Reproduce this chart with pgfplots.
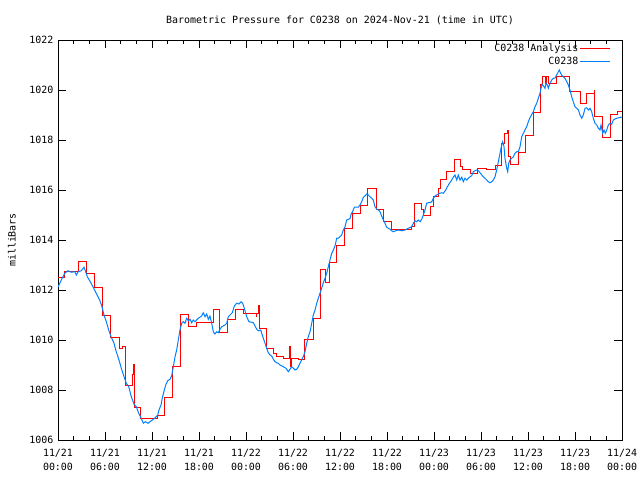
\documentclass[border=0pt]{standalone}
\usepackage{pgfplots}
\pgfplotsset{compat=1.18}
\usepackage{fontspec}
\setmainfont{DejaVu Sans Mono}
\definecolor{obsblue}{RGB}{0,128,255}
\definecolor{anared}{RGB}{255,0,0}
\begin{document}
\fontsize{10}{12}\selectfont
\begin{tikzpicture}
\useasboundingbox (0,0) rectangle (640bp,480bp);
\begin{axis}[
  at={(58bp,40bp)}, anchor=south west,
  scale only axis, width=564bp, height=400bp,
  xmin=0, xmax=72, ymin=1006, ymax=1022,
  xtick={0,6,...,72},
  minor xtick={0,2,...,72},
  xticklabels={{11/21\\00:00},{11/21\\06:00},{11/21\\12:00},{11/21\\18:00},{11/22\\00:00},{11/22\\06:00},{11/22\\12:00},{11/22\\18:00},{11/23\\00:00},{11/23\\06:00},{11/23\\12:00},{11/23\\18:00},{11/24\\00:00}},
  ytick={1006,1008,...,1022},
  yticklabels={1006,1008,1010,1012,1014,1016,1018,1020,1022},
  tick align=inside,
  major tick length=8bp, minor tick length=4bp,
  tick style={black, line width=0.8bp},
  axis line style={line width=0.9bp},
  xticklabel style={align=center, font=\fontsize{10}{14}\selectfont, yshift=-6bp},
  yticklabel style={font=\fontsize{10}{12}\selectfont, xshift=-1bp},
  legend style={at={(1,1)}, anchor=north east, xshift=-11bp, yshift=-2bp,
    draw=none, fill=none, font=\fontsize{10}{11}\selectfont,
    row sep=1.5bp, inner sep=0pt, nodes={inner sep=1.5bp}},
  legend plot pos=right,
  legend cell align=right,
  legend image code/.code={\draw[#1] (0bp,0bp) -- (30bp,0bp);},
]
\addplot[anared, line width=1bp, const plot] coordinates {
(0,1012.51) (0.77,1012.75) (2.64,1013.15) (3.66,1012.64) (4.69,1012.11)
(5.66,1010.99) (6.73,1010.11) (7.79,1009.65) (8.21,1009.75) (8.68,1008.19)
(9.54,1008.6) (9.61,1009.03) (9.79,1007.31) (10.56,1006.84) (12.68,1006.97)
(13.57,1007.71) (14.59,1008.93) (15.70,1011.0) (16.63,1010.53) (17.71,1010.69)
(19.79,1011.2) (20.59,1010.31) (21.70,1010.8) (22.72,1011.2) (23.62,1011.07)
(25.28,1010.95) (25.40,1011.07) (25.57,1011.36) (25.70,1010.45) (26.64,1009.65)
(27.57,1009.45) (27.83,1009.35) (28.76,1009.27) (29.53,1009.72) (29.62,1008.92)
(29.83,1009.25) (30.68,1009.2) (31.53,1010.03) (32.59,1010.87) (33.51,1012.83)
(34.21,1012.29) (34.66,1013.11) (35.58,1013.76) (36.57,1014.47) (37.57,1015.07)
(38.62,1015.36) (39.57,1016.05) (40.60,1015.2) (41.53,1014.73) (42.60,1014.43)
(45.15,1014.55) (45.57,1015.47) (46.43,1015.22) (46.72,1014.96) (47.49,1015.33)
(47.91,1015.73) (48.55,1016.07) (48.89,1016.4) (49.62,1016.73) (50.68,1017.23)
(51.41,1016.95) (51.66,1016.8) (52.60,1016.64) (53.53,1016.87) (54.73,1016.8)
(55.79,1016.96) (56.64,1017.87) (56.94,1018.27) (57.32,1018.36) (57.49,1017.33)
(57.79,1017.0) (58.76,1017.49) (59.62,1018.16) (60.68,1019.1) (61.62,1020.2)
(61.87,1020.53) (62.17,1020.24) (62.34,1020.53) (62.60,1020.26) (63.66,1020.53)
(65.32,1019.93) (66.64,1019.45) (67.45,1019.85) (68.47,1019.97) (68.55,1018.92)
(69.54,1018.08) (70.56,1019.02) (71.40,1019.12) (72,1019.12)
};
\addlegendentry{C0238 Analysis}
\addplot[obsblue, line width=1bp] coordinates {
(0,1012.11) (0.42,1012.40) (0.86,1012.67) (1.28,1012.77) (1.70,1012.71)
(2.13,1012.73) (2.34,1012.60) (2.55,1012.73) (2.97,1012.77) (3.32,1012.91)
(3.49,1012.77) (3.74,1012.53) (4.05,1012.37) (4.47,1012.13) (4.89,1011.87)
(5.32,1011.60) (5.62,1011.33) (5.87,1011.00) (6.17,1010.73) (6.47,1010.40)
(6.80,1010.11) (7.15,1009.87) (7.44,1009.53) (7.79,1009.20) (8.08,1008.87)
(8.43,1008.53) (8.72,1008.27) (9.03,1008.13) (9.36,1007.73) (9.70,1007.44)
(10.00,1007.33) (10.30,1007.07) (10.63,1006.87) (10.89,1006.67) (11.15,1006.73)
(11.49,1006.67) (11.91,1006.77) (12.34,1006.87) (12.73,1007.00) (12.89,1007.20)
(13.15,1007.40) (13.31,1007.67) (13.57,1008.00) (13.75,1008.20) (14.00,1008.37)
(14.30,1008.43) (14.51,1008.56) (14.72,1008.93) (14.94,1009.33) (15.15,1009.60)
(15.36,1010.00) (15.57,1010.40) (15.79,1010.67) (16.00,1010.73) (16.21,1010.67)
(16.43,1010.87) (16.63,1010.77) (16.85,1010.83) (17.07,1010.69) (17.27,1010.80)
(17.49,1010.73) (17.91,1010.87) (18.34,1010.96) (18.55,1011.09) (18.77,1010.93)
(18.98,1011.04) (19.19,1010.83) (19.40,1010.96) (19.62,1010.67) (19.83,1010.33)
(20.04,1010.24) (20.26,1010.33) (20.46,1010.29) (20.68,1010.43) (20.90,1010.53)
(21.32,1010.60) (21.54,1010.67) (21.74,1010.93) (21.96,1011.00) (22.25,1011.09)
(22.51,1011.36) (22.81,1011.47) (23.11,1011.44) (23.36,1011.53) (23.58,1011.47)
(23.78,1011.27) (24.09,1010.93) (24.38,1010.73) (24.73,1010.71) (24.94,1010.69)
(25.15,1010.56) (25.37,1010.43) (25.57,1010.37) (25.88,1010.40) (26.00,1010.27)
(26.21,1010.07) (26.43,1009.87) (26.64,1009.67) (26.85,1009.49) (27.06,1009.40)
(27.28,1009.36) (27.49,1009.23) (27.70,1009.13) (27.92,1009.09) (28.12,1009.07)
(28.34,1009.00) (28.76,1008.93) (29.11,1008.87) (29.40,1008.73) (29.62,1008.83)
(29.83,1008.93) (30.04,1008.87) (30.26,1008.80) (30.47,1008.83) (30.68,1008.93)
(30.89,1009.07) (31.11,1009.20) (31.31,1009.33) (31.53,1009.53) (31.75,1009.87)
(31.95,1010.13) (32.17,1010.33) (32.39,1010.67) (32.59,1011.00) (32.81,1011.20)
(33.03,1011.47) (33.23,1011.67) (33.45,1011.87) (33.66,1012.07) (33.87,1012.29)
(34.09,1012.47) (34.30,1012.67) (34.51,1012.93) (34.72,1013.20) (34.94,1013.47)
(35.15,1013.60) (35.36,1013.76) (35.58,1014.07) (35.78,1014.07) (36.00,1014.13)
(36.22,1014.20) (36.42,1014.40) (36.64,1014.53) (36.85,1014.80) (37.06,1014.83)
(37.28,1014.85) (37.45,1015.07) (37.57,1015.10) (37.83,1015.31) (38.13,1015.31)
(38.34,1015.31) (38.55,1015.40) (38.77,1015.53) (38.98,1015.71) (39.19,1015.76)
(39.41,1015.84) (39.61,1015.80) (39.83,1015.73) (40.05,1015.67) (40.25,1015.60)
(40.47,1015.33) (40.69,1015.23) (40.89,1015.20) (41.11,1015.13) (41.32,1014.96)
(41.53,1014.80) (41.74,1014.67) (41.96,1014.51) (42.17,1014.47) (42.38,1014.43)
(42.60,1014.37) (42.80,1014.33) (43.02,1014.36) (43.44,1014.40) (43.88,1014.37)
(44.30,1014.40) (44.72,1014.47) (45.15,1014.53) (45.36,1014.67) (45.57,1014.77)
(45.79,1014.73) (46.00,1014.80) (46.21,1014.73) (46.43,1014.83) (46.64,1015.00)
(46.85,1015.20) (47.07,1015.47) (47.27,1015.49) (47.49,1015.49) (47.71,1015.53)
(47.91,1015.67) (48.13,1015.76) (48.34,1015.80) (48.55,1015.84) (48.77,1015.87)
(48.98,1015.89) (49.19,1015.87) (49.50,1016.00) (49.83,1016.20) (50.26,1016.40)
(50.46,1016.51) (50.68,1016.60) (50.90,1016.40) (51.10,1016.60) (51.32,1016.40)
(51.54,1016.51) (51.74,1016.33) (51.96,1016.47) (52.17,1016.40) (52.38,1016.47)
(52.60,1016.53) (52.81,1016.57) (53.02,1016.73) (53.23,1016.77) (53.45,1016.80)
(53.66,1016.77) (53.87,1016.69) (54.29,1016.53) (54.51,1016.47) (54.73,1016.40)
(54.93,1016.33) (55.15,1016.29) (55.37,1016.33) (55.57,1016.40) (55.79,1016.53)
(56.00,1016.80) (56.21,1017.13) (56.43,1017.47) (56.64,1017.80) (56.77,1017.93)
(56.94,1017.73) (57.06,1017.27) (57.28,1016.87) (57.41,1016.73) (57.54,1017.07)
(57.70,1017.20) (57.92,1017.27) (58.13,1017.33) (58.34,1017.47) (58.56,1017.53)
(58.76,1017.53) (58.98,1017.73) (59.20,1018.13) (59.40,1018.27) (59.62,1018.40)
(59.83,1018.53) (60.04,1018.73) (60.26,1018.90) (60.68,1019.13) (60.89,1019.33)
(61.11,1019.47) (61.32,1019.67) (61.53,1019.87) (61.66,1020.07) (61.79,1020.23)
(61.96,1020.17) (62.17,1020.07) (62.30,1020.27) (62.47,1020.20) (62.60,1020.07)
(62.81,1020.27) (63.03,1020.40) (63.23,1020.47) (63.45,1020.47) (63.66,1020.60)
(63.87,1020.73) (64.00,1020.80) (64.17,1020.67) (64.30,1020.60) (64.51,1020.53)
(64.72,1020.47) (64.94,1020.33) (65.15,1020.20) (65.36,1020.00) (65.58,1019.73)
(65.78,1019.53) (66.00,1019.33) (66.22,1019.27) (66.43,1019.20) (66.64,1019.00)
(66.86,1018.87) (67.06,1019.00) (67.28,1019.27) (67.49,1019.29) (67.70,1019.20)
(67.92,1019.27) (68.13,1019.13) (68.34,1018.87) (68.55,1018.67) (68.77,1018.60)
(68.98,1018.47) (69.19,1018.40) (69.32,1018.60) (69.54,1018.27) (69.70,1018.40)
(69.87,1018.27) (70.05,1018.40) (70.25,1018.60) (70.47,1018.67) (70.69,1018.63)
(70.89,1018.80) (71.11,1018.84) (71.32,1018.87) (71.74,1018.90) (71.96,1018.92)
};
\addlegendentry{C0238}
\end{axis}
\node[font=\fontsize{10}{12}\selectfont] at (340bp,460bp) {Barometric Pressure for C0238 on 2024-Nov-21 (time in UTC)};
\node[rotate=90, font=\fontsize{10}{12}\selectfont] at (12bp,240bp) {milliBars};
\end{tikzpicture}
\end{document}
